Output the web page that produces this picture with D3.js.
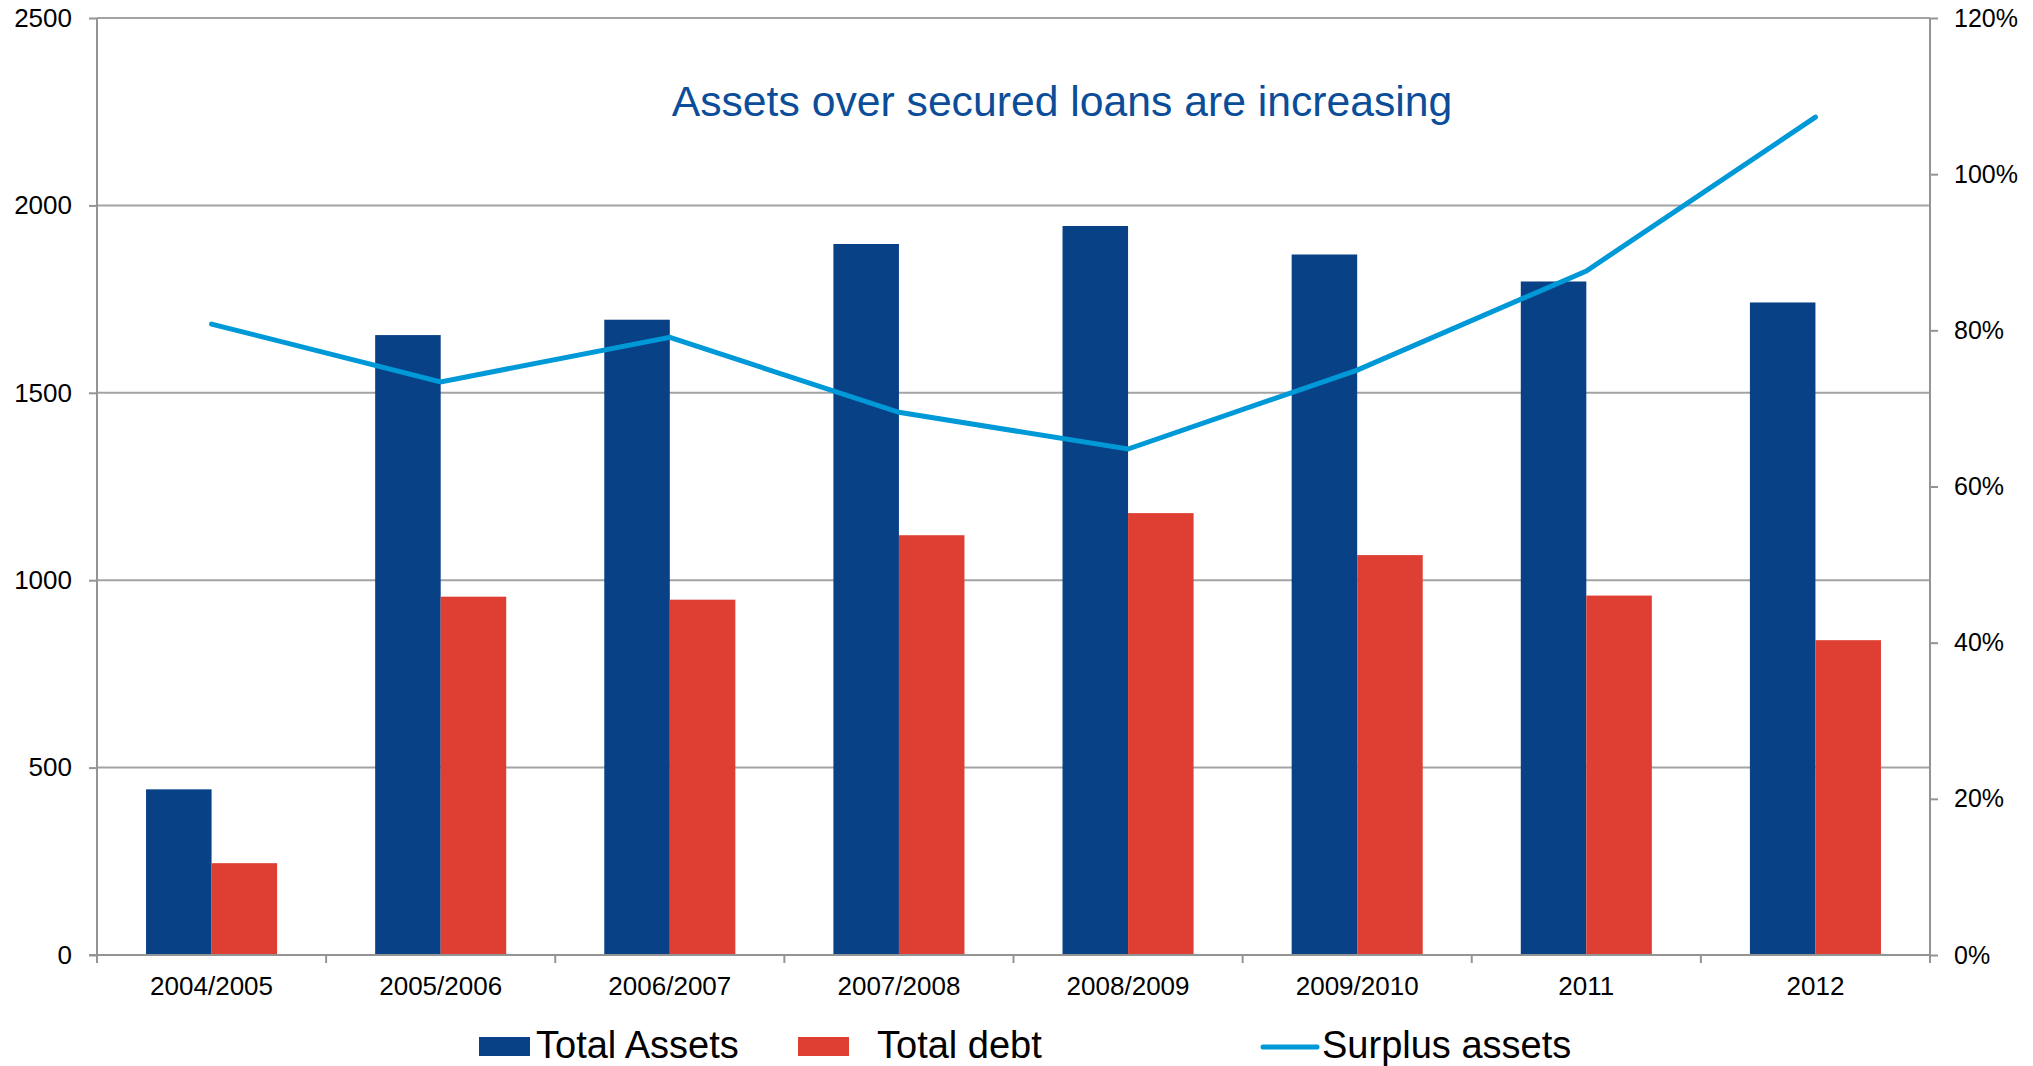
<!DOCTYPE html>
<html>
<head>
<meta charset="utf-8">
<script src="https://cdn.jsdelivr.net/npm/d3@7"></script>
<style>
  html, body { margin: 0; padding: 0; background: #ffffff; }
  svg { display: block; }
  text { font-family: "Liberation Sans", Arial, sans-serif; fill: #000; }
</style>
</head>
<body>
<svg id="chart" width="2033" height="1066"></svg>
<script>
// Financial years shown on the category axis
const categories = ["2004/2005", "2005/2006", "2006/2007", "2007/2008", "2008/2009", "2009/2010", "2011", "2012"];
// Balance sheet totals (left axis)
const totalAssets = [442, 1654, 1695, 1897, 1945, 1869, 1797, 1741];
const totalDebt = [245, 956, 948, 1120, 1179, 1067, 959, 840];
// Surplus of assets over secured loans (right axis, share of debt)
const surplusAssets = [0.808, 0.734, 0.791, 0.695, 0.648, 0.749, 0.876, 1.073];
// Axis ticks
const leftTicks = [0, 500, 1000, 1500, 2000, 2500];
const rightTicks = [0, 0.2, 0.4, 0.6, 0.8, 1.0, 1.2];

const seriesNames = ["Total Assets", "Total debt"];
const barColors = { "Total Assets": "#084186", "Total debt": "#DE3F32" };
const lineColor = "#0099D8";
const axisColor = "#949494";
const gridColor = "#A3A3A3";

const svg = d3.select("#chart");
const plot = { left: 97, right: 1930, top: 18, bottom: 955 };

const x0 = d3.scaleBand().domain(categories).range([plot.left, plot.right]).padding(0);
const bw = x0.bandwidth();
const groupGap = bw * 0.214;
const x1 = d3.scaleBand().domain(seriesNames).range([groupGap, bw - groupGap]).padding(0);

const y = d3.scaleLinear().domain([0, 2500]).range([plot.bottom, plot.top]);
const y2 = d3.scaleLinear().domain([0, 1.2]).range([plot.bottom, plot.top]);

// Horizontal gridlines on the left scale
svg.append("g").selectAll("line")
  .data(leftTicks.filter(d => d > 0))
  .join("line")
  .attr("x1", plot.left).attr("x2", plot.right)
  .attr("y1", d => y(d)).attr("y2", d => y(d))
  .attr("stroke", gridColor).attr("stroke-width", 2);

// Grouped bars
const rows = categories.map((c, i) => ({ cat: c, values: [
  { key: "Total Assets", value: totalAssets[i] },
  { key: "Total debt", value: totalDebt[i] }
]}));

svg.append("g").selectAll("g")
  .data(rows)
  .join("g")
  .attr("transform", d => `translate(${x0(d.cat)},0)`)
  .selectAll("rect")
  .data(d => d.values)
  .join("rect")
  .attr("x", d => x1(d.key))
  .attr("width", x1.bandwidth())
  .attr("y", d => y(d.value))
  .attr("height", d => y(0) - y(d.value))
  .attr("fill", d => barColors[d.key]);

// Left axis
const leftAxis = svg.append("g")
  .attr("transform", `translate(${plot.left},0)`)
  .call(d3.axisLeft(y).tickValues(leftTicks).tickSize(8).tickPadding(17).tickFormat(d3.format("d")));
leftAxis.select(".domain").attr("d", `M0,${plot.top}V${plot.bottom + 7}`);

// Right axis
const rightAxis = svg.append("g")
  .attr("transform", `translate(${plot.right},0)`)
  .call(d3.axisRight(y2).tickValues(rightTicks).tickSize(8).tickPadding(16).tickFormat(d3.format(".0%")));
rightAxis.select(".domain").attr("d", `M0,${plot.top}V${plot.bottom + 7}`);

// Bottom axis: labels at category centres, ticks at category boundaries
const bottomAxis = svg.append("g")
  .attr("transform", `translate(0,${plot.bottom})`)
  .call(d3.axisBottom(x0).tickSize(0).tickPadding(22));
bottomAxis.select(".domain").attr("d", `M${plot.left - 8},0H${plot.right}`);
bottomAxis.selectAll(".boundary")
  .data(d3.range(categories.length + 1))
  .join("line")
  .attr("class", "boundary")
  .attr("x1", i => plot.left + i * bw).attr("x2", i => plot.left + i * bw)
  .attr("y1", 0).attr("y2", 8);

svg.selectAll(".domain, .tick line, .boundary")
  .attr("stroke", axisColor).attr("stroke-width", 2);
leftAxis.selectAll("text").style("font-size", "26px").attr("fill", "#000");
rightAxis.selectAll("text").style("font-size", "25px").attr("fill", "#000");
bottomAxis.selectAll("text").style("font-size", "26px").attr("fill", "#000");

// Surplus line on the right scale
const line = d3.line()
  .x((d, i) => x0(categories[i]) + bw / 2)
  .y(d => y2(d));
svg.append("path")
  .datum(surplusAssets)
  .attr("d", line)
  .attr("fill", "none")
  .attr("stroke", lineColor)
  .attr("stroke-width", 5)
  .attr("stroke-linecap", "round")
  .attr("stroke-linejoin", "miter");

// Headline
svg.append("text")
  .attr("x", 1062).attr("y", 116)
  .attr("text-anchor", "middle")
  .style("font-size", "42.7px")
  .style("fill", "#0C4D99")
  .text("Assets over secured loans are increasing");

// Legend
const legend = svg.append("g").style("font-size", "38px");
const legendItems = [
  { name: "Total Assets", type: "rect", color: barColors["Total Assets"], sx: 479, tx: 536 },
  { name: "Total debt", type: "rect", color: barColors["Total debt"], sx: 798, tx: 877 },
  { name: "Surplus assets", type: "line", color: lineColor, sx: 1263, tx: 1322 }
];
legendItems.forEach(it => {
  if (it.type === "rect") {
    legend.append("rect").attr("x", it.sx).attr("y", 1037).attr("width", 51).attr("height", 19).attr("fill", it.color);
  } else {
    legend.append("line").attr("x1", it.sx).attr("x2", it.sx + 54).attr("y1", 1047).attr("y2", 1047)
      .attr("stroke", it.color).attr("stroke-width", 5).attr("stroke-linecap", "round");
  }
  legend.append("text").attr("x", it.tx).attr("y", 1058).text(it.name);
});
</script>
</body>
</html>
